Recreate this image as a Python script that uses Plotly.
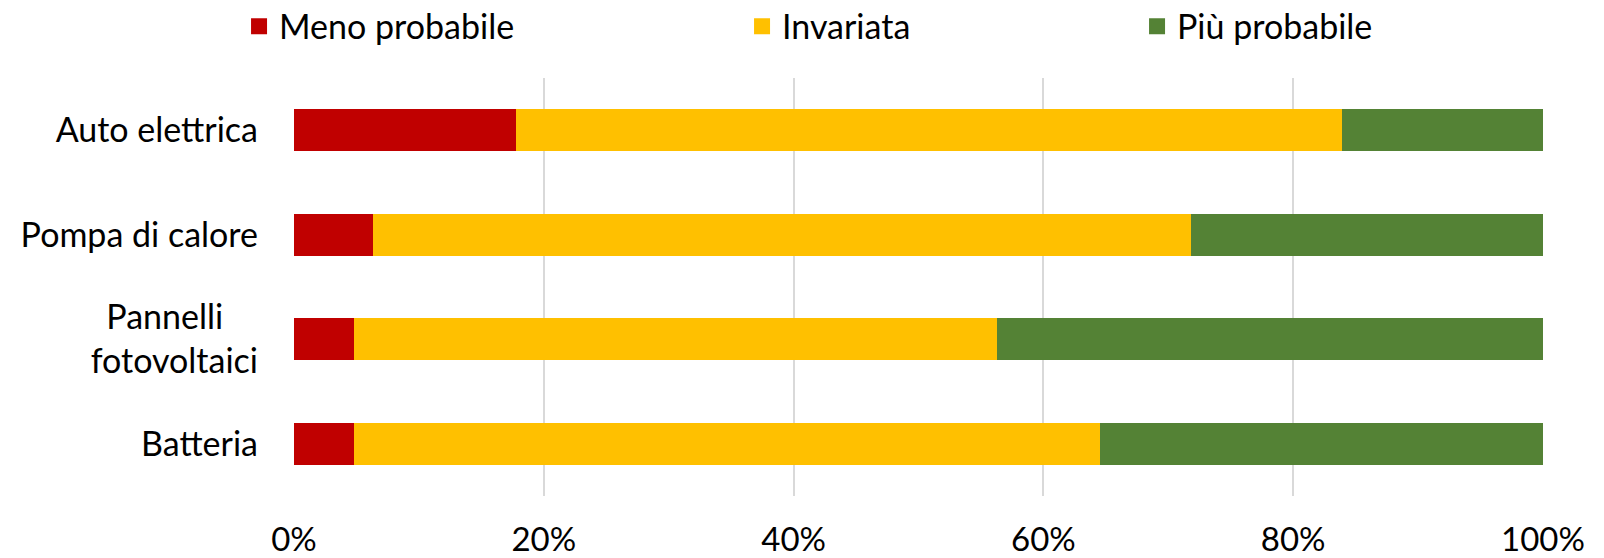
import plotly.graph_objects as go

categories = ["Auto elettrica", "Pompa di calore", "Pannelli<br>fotovoltaici", "Batteria"]
tick_labels = ["Auto elettrica", "Pompa di calore",
               "Pannelli\u00a0\u00a0\u00a0\u00a0<br>fotovoltaici", "Batteria"]
series_names = ["Meno probabile", "Invariata", "Più probabile"]
meno = [17.8, 6.3, 4.8, 4.8]
invariata = [66.1, 65.5, 51.5, 59.7]
piu = [16.1, 28.2, 43.7, 35.5]
colors = ["#C00000", "#FFC000", "#548235"]
x_ticks = [0, 20, 40, 60, 80, 100]
x_tick_labels = ["0%", "20%", "40%", "60%", "80%", "100%"]

FONT = "Lato"
fig = go.Figure()
values = [meno, invariata, piu]
for name, vals, col in zip(series_names, values, colors):
    fig.add_trace(go.Bar(
        y=categories, x=vals, name=name, orientation="h",
        marker=dict(color=col, line=dict(width=0)),
        showlegend=False, legendgroup=name,
    ))
# legend proxies (larger square symbols)
legend_widths = [458, 350, 200]
for name, col, lw in zip(series_names, colors, legend_widths):
    fig.add_trace(go.Scatter(
        x=[None], y=[None], mode="markers", name=name, legendgroup=name,
        marker=dict(symbol="square", size=16, color=col),
        legendwidth=lw, showlegend=True,
    ))

fig.update_layout(
    barmode="stack",
    bargap=0.6,
    width=1604, height=558,
    margin=dict(l=294, r=61, t=78, b=62, autoexpand=False),
    paper_bgcolor="white", plot_bgcolor="white",
    font=dict(family=FONT, size=34, color="#000000"),
    legend=dict(
        orientation="h", x=-0.0440, xanchor="left", y=1.123, yanchor="middle",
        font=dict(family=FONT, size=34, color="#000000"),
        itemsizing="trace", bgcolor="rgba(0,0,0,0)",
    ),
    xaxis=dict(
        range=[0, 100], tickvals=x_ticks, ticktext=x_tick_labels,
        showgrid=True, gridcolor="#D9D9D9", gridwidth=1.5,
        zeroline=False, showline=False, ticks="",
        tickfont=dict(family=FONT, size=33, color="#000000"),
        ticklabelstandoff=21, fixedrange=True,
    ),
    yaxis=dict(
        categoryorder="array", categoryarray=categories,
        autorange="reversed", tickvals=categories, ticktext=tick_labels,
        showgrid=False, zeroline=False, showline=False, ticks="",
        tickfont=dict(family=FONT, size=34, color="#000000"),
        ticklabelstandoff=35,
    ),
)
fig.write_html(
    "out.html",
    config={"displayModeBar": False},
    post_script="document.body.style.margin='0';document.body.style.overflow='hidden';",
)
